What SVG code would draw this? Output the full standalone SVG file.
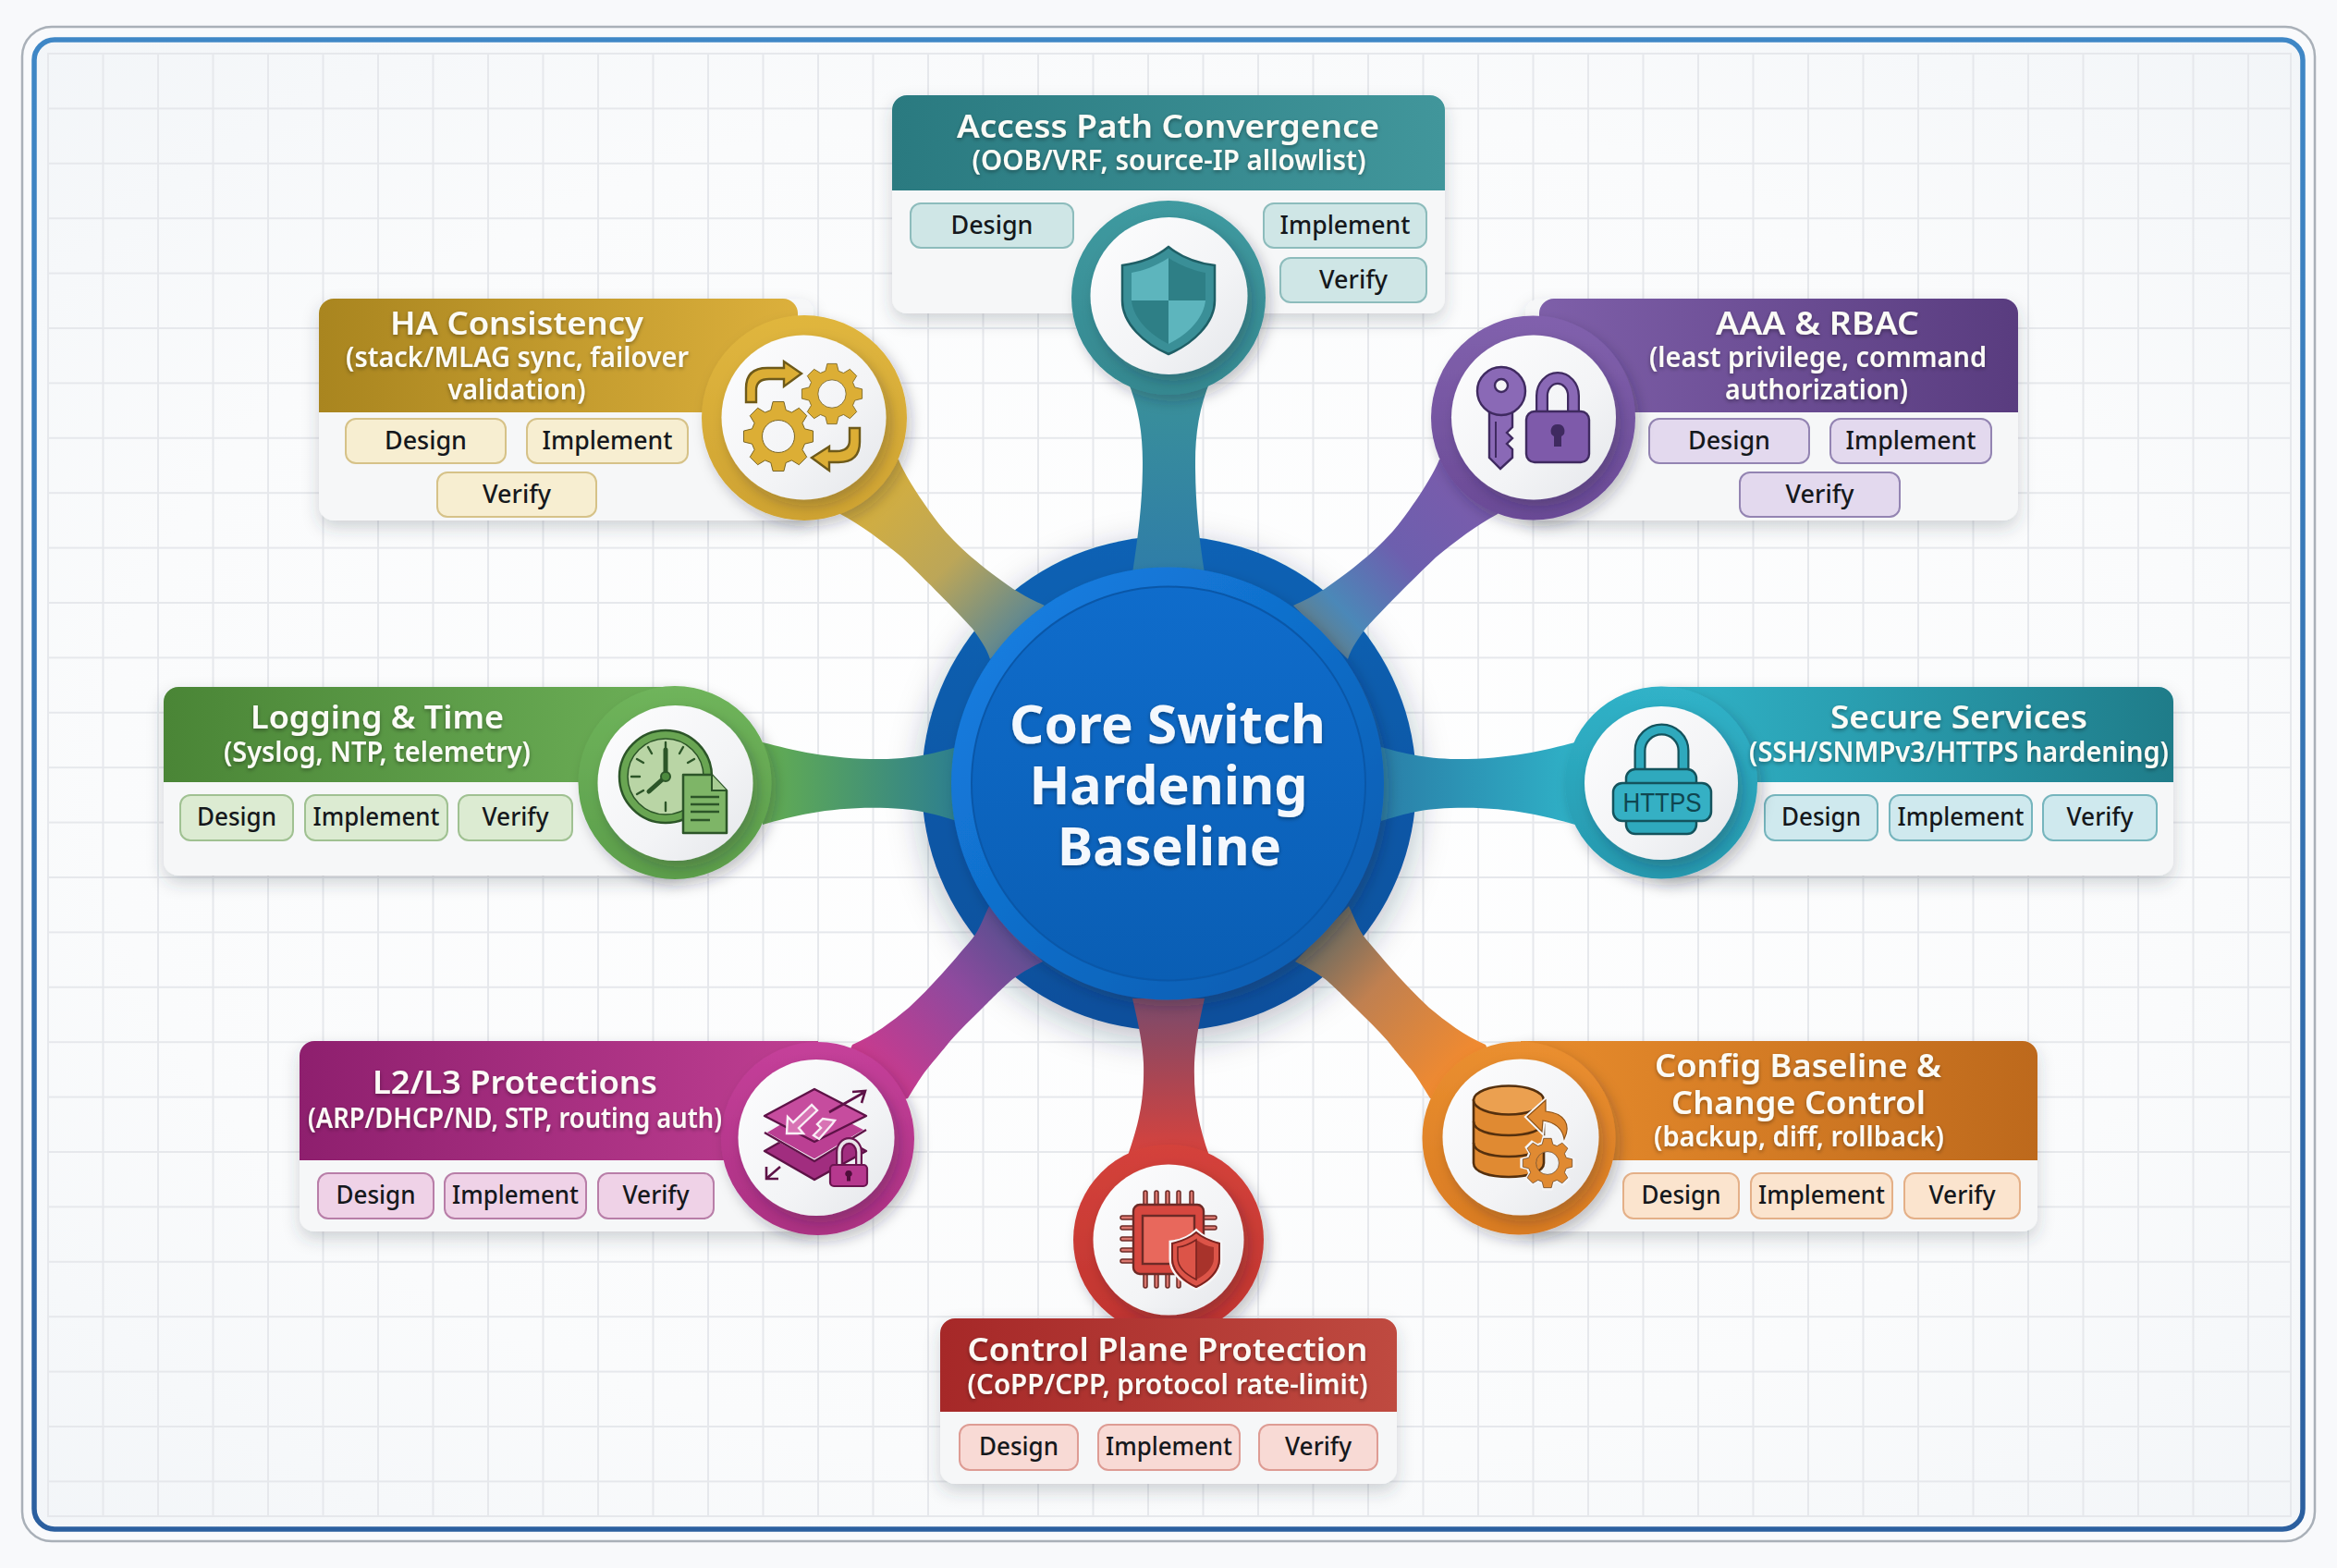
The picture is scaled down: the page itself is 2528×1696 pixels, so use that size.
<svg xmlns="http://www.w3.org/2000/svg" xmlns:xlink="http://www.w3.org/1999/xlink" width="2528" height="1696" viewBox="0 0 2528 1696">
<style>
text{font-family:"Noto Sans","Open Sans","Liberation Sans",sans-serif;text-anchor:middle}
.t{font-size:35px;font-weight:600;fill:#fbfbf6}
.s{font-size:30px;font-weight:600;fill:#fbfbf6}
.p{font-size:27.5px;font-weight:500;fill:#15181c}
.c{font-size:57px;font-weight:700;fill:#f4f8fd}
.body{fill:#f6f7f8}
.w{fill:url(#white)}
.pill{stroke-width:2}
.teal .pill{fill:#cfe6e6;stroke:#8dbcbc}
.gold .pill{fill:#f7eed1;stroke:#d6c288}
.purple .pill{fill:#e3d9ee;stroke:#9384b2}
.green .pill{fill:#dcebd2;stroke:#a0c192}
.cyan .pill{fill:#cfe9ee;stroke:#76b5bd}
.mag .pill{fill:#efd2e7;stroke:#b87ea8}
.orange .pill{fill:#fbe4ce;stroke:#e4b088}
.red .pill{fill:#f8dad5;stroke:#de9c94}
.ns{vector-effect:non-scaling-stroke}
</style>
<defs>
<radialGradient id="bg" cx="50%" cy="50%" r="72%"><stop offset="0" stop-color="#ffffff"/><stop offset=".65" stop-color="#fafbfc"/><stop offset="1" stop-color="#f2f5f8"/></radialGradient>
<linearGradient id="frame" x1="0" y1="0" x2="0" y2="1"><stop offset="0" stop-color="#3f87c6"/><stop offset="1" stop-color="#2b5f9f"/></linearGradient>
<pattern id="grid" patternUnits="userSpaceOnUse" x="51" y="57" width="59.5" height="59.4"><path d="M0,1H59.5M1,0V59.4" fill="none" stroke="#e6e8ec" stroke-width="2"/></pattern>
<linearGradient id="white" x1="0" y1="0" x2="1" y2="1"><stop offset="0" stop-color="#fdfdfe"/><stop offset=".6" stop-color="#f3f4f6"/><stop offset="1" stop-color="#e4e6ea"/></linearGradient>
<linearGradient id="coreO" x1="0" y1="0" x2="0" y2="1"><stop offset="0" stop-color="#0f62b4"/><stop offset="1" stop-color="#0a4f9b"/></linearGradient>
<linearGradient id="coreM" x1="0" y1="0" x2="1" y2="1"><stop offset="0" stop-color="#1581e6"/><stop offset="1" stop-color="#0b59ab"/></linearGradient>
<linearGradient id="coreI" x1="0" y1="0" x2="0" y2="1"><stop offset="0" stop-color="#0f6ccb"/><stop offset="1" stop-color="#0a5eb4"/></linearGradient>
<linearGradient id="hTeal"><stop offset="0" stop-color="#2a7a80"/><stop offset="1" stop-color="#41969b"/></linearGradient>
<linearGradient id="hGold"><stop offset="0" stop-color="#a9851f"/><stop offset="1" stop-color="#dcb03c"/></linearGradient>
<linearGradient id="hPurple"><stop offset="0" stop-color="#7e5fa9"/><stop offset="1" stop-color="#593c7f"/></linearGradient>
<linearGradient id="hGreen"><stop offset="0" stop-color="#4a8536"/><stop offset="1" stop-color="#6db058"/></linearGradient>
<linearGradient id="hCyan"><stop offset="0" stop-color="#30b3c8"/><stop offset="1" stop-color="#1f7c89"/></linearGradient>
<linearGradient id="hMag"><stop offset="0" stop-color="#8e1f6e"/><stop offset="1" stop-color="#bf3f92"/></linearGradient>
<linearGradient id="hOrange"><stop offset="0" stop-color="#e88c2c"/><stop offset="1" stop-color="#bd691c"/></linearGradient>
<linearGradient id="hRed"><stop offset="0" stop-color="#a62828"/><stop offset="1" stop-color="#bf4a40"/></linearGradient>
<linearGradient id="rTeal" x1="0" y1="0" x2="0" y2="1"><stop offset="0" stop-color="#3f9aa0"/><stop offset="1" stop-color="#358890"/></linearGradient>
<linearGradient id="rGold" x1="0" y1="0" x2="0" y2="1"><stop offset="0" stop-color="#e0b63e"/><stop offset="1" stop-color="#cfa332"/></linearGradient>
<linearGradient id="rPurple" x1="0" y1="0" x2="0" y2="1"><stop offset="0" stop-color="#8161ad"/><stop offset="1" stop-color="#6a4a96"/></linearGradient>
<linearGradient id="rGreen" x1="0" y1="0" x2="0" y2="1"><stop offset="0" stop-color="#6fb45b"/><stop offset="1" stop-color="#5c9e4b"/></linearGradient>
<linearGradient id="rCyan" x1="0" y1="0" x2="0" y2="1"><stop offset="0" stop-color="#30b2c8"/><stop offset="1" stop-color="#2698ae"/></linearGradient>
<linearGradient id="rMag" x1="0" y1="0" x2="0" y2="1"><stop offset="0" stop-color="#c5409a"/><stop offset="1" stop-color="#ab3082"/></linearGradient>
<linearGradient id="rOrange" x1="0" y1="0" x2="0" y2="1"><stop offset="0" stop-color="#ea8f30"/><stop offset="1" stop-color="#d97b22"/></linearGradient>
<linearGradient id="rRed" x1="0" y1="0" x2="0" y2="1"><stop offset="0" stop-color="#d4423b"/><stop offset="1" stop-color="#c0342f"/></linearGradient>
<linearGradient id="cTop" gradientUnits="userSpaceOnUse" x1="1264" y1="410" x2="1264" y2="620"><stop offset="0" stop-color="#3a9199"/><stop offset="1" stop-color="#2f7da8"/></linearGradient>
<linearGradient id="cHA" gradientUnits="userSpaceOnUse" x1="930" y1="520" x2="1100" y2="690"><stop offset="0" stop-color="#d8b03a"/><stop offset=".55" stop-color="#bca658"/><stop offset="1" stop-color="#5a8694"/></linearGradient>
<linearGradient id="cAAA" gradientUnits="userSpaceOnUse" x1="1610" y1="520" x2="1430" y2="690"><stop offset="0" stop-color="#7c5bab"/><stop offset=".5" stop-color="#6d5fae"/><stop offset=".85" stop-color="#4b88b8"/><stop offset="1" stop-color="#5f8090"/></linearGradient>
<linearGradient id="cLog" gradientUnits="userSpaceOnUse" x1="830" y1="850" x2="1035" y2="850"><stop offset="0" stop-color="#62ac52"/><stop offset="1" stop-color="#2d7f8f"/></linearGradient>
<linearGradient id="cSec" gradientUnits="userSpaceOnUse" x1="1700" y1="850" x2="1494" y2="850"><stop offset="0" stop-color="#2fb0c6"/><stop offset="1" stop-color="#2a7fa8"/></linearGradient>
<linearGradient id="cL2" gradientUnits="userSpaceOnUse" x1="950" y1="1160" x2="1100" y2="1010"><stop offset="0" stop-color="#c93a8e"/><stop offset=".6" stop-color="#8e4a9e"/><stop offset="1" stop-color="#5a4f90"/></linearGradient>
<linearGradient id="cCfg" gradientUnits="userSpaceOnUse" x1="1580" y1="1150" x2="1430" y2="1010"><stop offset="0" stop-color="#f08a30"/><stop offset=".6" stop-color="#c08050"/><stop offset="1" stop-color="#6a6a60"/></linearGradient>
<linearGradient id="cRed" gradientUnits="userSpaceOnUse" x1="1264" y1="1250" x2="1264" y2="1085"><stop offset="0" stop-color="#d8423c"/><stop offset="1" stop-color="#7d4a6a"/></linearGradient>
<filter id="card" x="-10%" y="-15%" width="120%" height="135%"><feDropShadow dx="0" dy="8" stdDeviation="9" flood-color="#39424e" flood-opacity=".22"/></filter>
<filter id="disc" x="-20%" y="-20%" width="140%" height="140%"><feDropShadow dx="5" dy="7" stdDeviation="7" flood-color="#20262e" flood-opacity=".25"/></filter>
<filter id="big" x="-15%" y="-15%" width="130%" height="130%"><feDropShadow dx="0" dy="10" stdDeviation="18" flood-color="#1c2c44" flood-opacity=".3"/></filter>
<filter id="txt" x="-5%" y="-20%" width="110%" height="140%"><feDropShadow dx="0" dy="2" stdDeviation="2" flood-color="#000" flood-opacity=".35"/></filter>
<path id="gear" fill-rule="evenodd" d="M98.8,-15.6L98.8,15.6L75,21.5L68.2,37.8L80.9,58.8L58.8,80.9L37.8,68.2L21.5,75L15.6,98.8L-15.6,98.8L-21.5,75L-37.8,68.2L-58.8,80.9L-80.9,58.8L-68.2,37.8L-75,21.5L-98.8,15.6L-98.8,-15.6L-75,-21.5L-68.2,-37.8L-80.9,-58.8L-58.8,-80.9L-37.8,-68.2L-21.5,-75L-15.6,-98.8L15.6,-98.8L21.5,-75L37.8,-68.2L58.8,-80.9L80.9,-58.8L68.2,-37.8L75,-21.5ZM46,0A46,46 0 1,0 -46,0A46,46 0 1,0 46,0Z"/>
</defs>

<g id="background">
<rect width="2528" height="1696" fill="#f8f9fb"/>
<rect x="24" y="29" width="2480" height="1638" rx="32" fill="#f9fafc" stroke="#a9b0b8" stroke-width="2.5"/>
<rect x="37" y="43" width="2454" height="1611" rx="22" fill="url(#bg)" stroke="url(#frame)" stroke-width="5.5"/>
<rect x="52" y="58" width="2426" height="1582" fill="url(#grid)" stroke="#e6e8ec" stroke-width="2"/>
</g>

<g id="core-ring"><circle cx="1264.5" cy="847.5" r="267.5" fill="url(#coreO)" filter="url(#big)"/></g>

<g id="connectors">
<path fill="url(#cTop)" d="M1219,410C1232,440 1236,470 1236,500C1236,540 1232,575 1225,620L1303,620C1296,575 1293,540 1293,500C1293,470 1297,440 1310,410Z"/>
<path fill="url(#cHA)" d="M972,497C979,515 999,545 1016,567C1034,590 1064,615 1096,637C1109,645 1119,650 1130,655L1071,713C1067,700 1059,690 1052,680C1034,660 999,625 976,603C954,585 932,568 909,556L880,500Z"/>
<path fill="url(#cAAA)" d="M1557,497C1550,515 1530,545 1513,567C1495,590 1465,615 1433,637C1420,645 1410,650 1399,655L1458,713C1462,700 1470,690 1477,680C1495,660 1530,625 1553,603C1575,585 1597,568 1620,556L1650,500Z"/>
<path fill="url(#cLog)" d="M825,803C860,812 900,822 960,821C990,820 1010,815 1035,808L1035,888C1010,880 990,875 960,874C900,872 860,882 825,892Z"/>
<path fill="url(#cSec)" d="M1704,803C1669,812 1629,822 1569,821C1539,820 1519,815 1494,808L1494,888C1519,880 1539,875 1569,874C1629,872 1669,882 1704,892Z"/>
<path fill="url(#cL2)" d="M1070,980C1065,990 1060,1005 1052,1015C1035,1035 1010,1065 983,1090C965,1105 945,1120 922,1130L880,1220L982,1188C990,1175 993,1170 1000,1160C1012,1145 1025,1130 1027,1127C1040,1112 1050,1103 1063,1090C1075,1078 1090,1063 1097,1058C1108,1050 1118,1045 1128,1040Z"/>
<path fill="url(#cCfg)" d="M1459,980C1464,990 1469,1005 1477,1015C1494,1035 1519,1065 1546,1090C1564,1105 1584,1120 1607,1130L1649,1220L1547,1188C1539,1175 1536,1170 1529,1160C1517,1145 1504,1130 1502,1127C1489,1112 1479,1103 1466,1090C1454,1078 1439,1063 1432,1058C1421,1050 1411,1045 1401,1040Z"/>
<path fill="url(#cRed)" d="M1225,1080C1232,1110 1236,1130 1237,1150C1238,1190 1232,1215 1220,1250L1308,1250C1296,1215 1291,1190 1292,1150C1293,1130 1296,1110 1303,1080Z"/>
</g>

<g id="node-core">
<circle cx="1263" cy="847.5" r="234" fill="url(#coreM)" filter="url(#disc)"/>
<circle cx="1264" cy="847.5" r="213" fill="url(#coreI)" stroke="#0a57a8" stroke-width="2"/>
<g filter="url(#txt)">
<text class="c" x="1263" y="804" textLength="342" lengthAdjust="spacingAndGlyphs">Core Switch</text>
<text class="c" x="1264" y="870" textLength="301" lengthAdjust="spacingAndGlyphs">Hardening</text>
<text class="c" x="1265" y="936" textLength="242" lengthAdjust="spacingAndGlyphs">Baseline</text>
</g>
</g>

<g id="node-access" class="teal">
<rect class="body" x="965" y="103" width="598" height="236" rx="16" filter="url(#card)"/>
<path fill="url(#hTeal)" d="M965,206V119A16,16 0 0 1 981,103H1547A16,16 0 0 1 1563,119V206Z"/>
<g filter="url(#txt)"><text class="t" x="1263.5" y="149" textLength="457" lengthAdjust="spacingAndGlyphs">Access Path Convergence</text>
<text class="s" x="1264.5" y="184" textLength="426" lengthAdjust="spacingAndGlyphs">(OOB/VRF, source-IP allowlist)</text></g>
<rect class="pill" x="985" y="220" width="176" height="48" rx="11"/><text class="p" x="1073" y="253" textLength="89" lengthAdjust="spacingAndGlyphs">Design</text>
<rect class="pill" x="1367" y="220" width="176" height="48" rx="11"/><text class="p" x="1455" y="253" textLength="141" lengthAdjust="spacingAndGlyphs">Implement</text>
<rect class="pill" x="1385" y="279" width="158" height="48" rx="11"/><text class="p" x="1464" y="312" textLength="74" lengthAdjust="spacingAndGlyphs">Verify</text>
<circle cx="1264" cy="322" r="105" fill="url(#rTeal)" filter="url(#disc)"/>
<circle class="w" cx="1264.5" cy="320" r="85" filter="url(#disc)"/>
<path fill="#3a8f97" stroke="#1f5f66" stroke-width="2.5" d="M1264,267C1280,280 1298,285 1314,287L1314,325C1314,350 1290,372 1264,383C1238,372 1214,350 1214,325L1214,287C1230,285 1248,280 1264,267Z"/>
<path fill="#5db5bd" d="M1264,279C1250,288 1236,293 1224,295L1224,325L1264,325Z"/>
<path fill="#2e7f86" d="M1264,279C1278,288 1292,293 1304,295L1304,325L1264,325Z"/>
<path fill="#2e7f86" d="M1224,325C1226,345 1244,362 1264,372L1264,325Z"/>
<path fill="#5db5bd" d="M1304,325C1302,345 1284,362 1264,372L1264,325Z"/>
</g>

<g id="node-ha" class="gold">
<rect class="body" x="345" y="323" width="535" height="240" rx="16" filter="url(#card)"/>
<path fill="url(#hGold)" d="M345,446V339A16,16 0 0 1 361,323H847A16,16 0 0 1 863,339V446Z"/>
<g filter="url(#txt)"><text class="t" x="559" y="362" textLength="274" lengthAdjust="spacingAndGlyphs">HA Consistency</text>
<text class="s" x="559.5" y="397" textLength="371" lengthAdjust="spacingAndGlyphs">(stack/MLAG sync, failover</text>
<text class="s" x="559" y="432" textLength="149" lengthAdjust="spacingAndGlyphs">validation)</text></g>
<rect class="pill" x="374" y="453" width="173" height="48" rx="11"/><text class="p" x="460.5" y="486" textLength="89" lengthAdjust="spacingAndGlyphs">Design</text>
<rect class="pill" x="570" y="453" width="174" height="48" rx="11"/><text class="p" x="657" y="486" textLength="141" lengthAdjust="spacingAndGlyphs">Implement</text>
<rect class="pill" x="473" y="511" width="172" height="48" rx="11"/><text class="p" x="559" y="544" textLength="74" lengthAdjust="spacingAndGlyphs">Verify</text>
<circle cx="870" cy="452" r="111" fill="url(#rGold)" filter="url(#disc)"/>
<circle class="w" cx="869.5" cy="451.5" r="89" filter="url(#disc)"/>
<g fill="#dcae35" stroke="#6e5a1a" stroke-width="2.4">
<use xlink:href="#gear" href="#gear" class="ns" transform="translate(842,472) scale(.38)"/>
<use xlink:href="#gear" href="#gear" class="ns" transform="translate(900,426) scale(.33)"/>
<path d="M807,435L807,420C807,405 815,398 830,398L848,398L848,391L867,404L848,418L848,410L832,410C822,410 818,414 818,422L818,435Z"/>
<path d="M930,463L930,478C930,493 922,500 907,500L897,500L897,509L878,495L897,483L897,488L905,488C915,488 919,484 919,476L919,463Z"/>
</g>
</g>

<g id="node-aaa" class="purple">
<rect class="body" x="1650" y="323" width="533" height="240" rx="16" filter="url(#card)"/>
<path fill="url(#hPurple)" d="M1665,446V339A16,16 0 0 1 1681,323H2167A16,16 0 0 1 2183,339V446Z"/>
<g filter="url(#txt)"><text class="t" x="1966" y="362" textLength="220" lengthAdjust="spacingAndGlyphs">AAA &amp; RBAC</text>
<text class="s" x="1966.5" y="397" textLength="365" lengthAdjust="spacingAndGlyphs">(least privilege, command</text>
<text class="s" x="1965" y="432" textLength="198" lengthAdjust="spacingAndGlyphs">authorization)</text></g>
<rect class="pill" x="1784" y="453" width="173" height="48" rx="11"/><text class="p" x="1870.5" y="486" textLength="89" lengthAdjust="spacingAndGlyphs">Design</text>
<rect class="pill" x="1980" y="453" width="174" height="48" rx="11"/><text class="p" x="2067" y="486" textLength="141" lengthAdjust="spacingAndGlyphs">Implement</text>
<rect class="pill" x="1882" y="511" width="173" height="48" rx="11"/><text class="p" x="1968.5" y="544" textLength="74" lengthAdjust="spacingAndGlyphs">Verify</text>
<circle cx="1658.5" cy="452" r="110.5" fill="url(#rPurple)" filter="url(#disc)"/>
<circle class="w" cx="1659" cy="451.5" r="89" filter="url(#disc)"/>
<g fill="#8a69b6" stroke="#3f2a60" stroke-width="2.4">
<path d="M1611,440L1611,495L1623,507L1636,495L1636,486L1630,480L1636,474L1630,468L1636,462L1636,440Z"/>
<circle cx="1624" cy="423" r="26"/>
<circle cx="1624" cy="417" r="7" fill="#f5f5f7"/>
<path d="M1618,456V495" fill="none" stroke-width="2"/>
<path d="M1668,447V428A17,19 0 0 1 1702,428V447" fill="none" stroke-width="14"/>
<path d="M1668,447V428A17,19 0 0 1 1702,428V447" fill="none" stroke="#8a69b6" stroke-width="9.5"/>
<rect x="1651" y="445" width="68" height="55" rx="9" fill="#7e5aaa"/>
<path d="M1685,459a7,7 0 0 1 4,13v11h-8v-11a7,7 0 0 1 4,-13Z" fill="#3f2a60" stroke="none"/>
</g>
</g>

<g id="node-logging" class="green">
<rect class="body" x="177" y="743" width="563" height="204" rx="16" filter="url(#card)"/>
<path fill="url(#hGreen)" d="M177,846V759A16,16 0 0 1 193,743H740V846Z"/>
<g filter="url(#txt)"><text class="t" x="408" y="788" textLength="274" lengthAdjust="spacingAndGlyphs">Logging &amp; Time</text>
<text class="s" x="408" y="824" textLength="332" lengthAdjust="spacingAndGlyphs">(Syslog, NTP, telemetry)</text></g>
<rect class="pill" x="195" y="860" width="122" height="49" rx="11"/><text class="p" x="256" y="893" textLength="86" lengthAdjust="spacingAndGlyphs">Design</text>
<rect class="pill" x="330" y="860" width="154" height="49" rx="11"/><text class="p" x="407" y="893" textLength="137" lengthAdjust="spacingAndGlyphs">Implement</text>
<rect class="pill" x="496" y="860" width="123" height="49" rx="11"/><text class="p" x="557.5" y="893" textLength="72" lengthAdjust="spacingAndGlyphs">Verify</text>
<circle cx="730" cy="846.5" r="104.5" fill="url(#rGreen)" filter="url(#disc)"/>
<circle class="w" cx="730.5" cy="847" r="84" filter="url(#disc)"/>
<circle cx="720" cy="840" r="50" fill="#69a552" stroke="#2c5528" stroke-width="2.5"/>
<circle cx="720" cy="840" r="41" fill="#b9d5a5" stroke="#2c5528" stroke-width="1.5"/>
<path d="M720,803v9M720,868v9M683,840h9M748,840h9M701,808l4,7M739,808l-4,7M689,821l7,4M751,821l-7,4M689,859l7,-4" stroke="#2c5528" stroke-width="2.4" fill="none" stroke-linecap="round"/>
<path d="M720,840V811M720,840L702,856" stroke="#2c5528" stroke-width="5" fill="none" stroke-linecap="round"/>
<circle cx="720" cy="840" r="5" fill="#4d8a3e" stroke="#2c5528" stroke-width="2"/>
<path d="M739,838H770L786,855V901H739Z" fill="#7eb567" stroke="#2c5528" stroke-width="2.5" stroke-linejoin="round"/>
<path d="M770,838V855H786" fill="#a8cd93" stroke="#2c5528" stroke-width="2"/>
<path d="M747,862H778M747,870H778M747,878H778M747,887H768" stroke="#2c5528" stroke-width="2.4"/>
</g>

<g id="node-secure" class="cyan">
<rect class="body" x="1790" y="743" width="561" height="204" rx="16" filter="url(#card)"/>
<path fill="url(#hCyan)" d="M1797,846V743H2335A16,16 0 0 1 2351,759V846Z"/>
<rect class="pill" x="1909" y="860" width="122" height="49" rx="11"/><text class="p" x="1970" y="893" textLength="86" lengthAdjust="spacingAndGlyphs">Design</text>
<rect class="pill" x="2044" y="860" width="154" height="49" rx="11"/><text class="p" x="2121" y="893" textLength="137" lengthAdjust="spacingAndGlyphs">Implement</text>
<rect class="pill" x="2210" y="860" width="123" height="49" rx="11"/><text class="p" x="2271.5" y="893" textLength="72" lengthAdjust="spacingAndGlyphs">Verify</text>
<circle cx="1797" cy="846.5" r="104" fill="url(#rCyan)" filter="url(#disc)"/>
<circle class="w" cx="1797" cy="847" r="83" filter="url(#disc)"/>
<g filter="url(#txt)"><text class="t" x="2119" y="788" textLength="278" lengthAdjust="spacingAndGlyphs">Secure Services</text>
<text class="s" x="2119" y="824" textLength="454" lengthAdjust="spacingAndGlyphs">(SSH/SNMPv3/HTTPS hardening)</text></g>
<path d="M1774,834V812A23.5,23 0 0 1 1821,812V834" fill="none" stroke="#14535d" stroke-width="13"/>
<path d="M1774,834V812A23.5,23 0 0 1 1821,812V834" fill="none" stroke="#2fa9bd" stroke-width="8.5"/>
<rect x="1759" y="832" width="76" height="70" rx="10" fill="#2fa9bd" stroke="#14535d" stroke-width="2.5"/>
<rect x="1745" y="847" width="106" height="41" rx="10" fill="#35b0c4" stroke="#14535d" stroke-width="2.5"/>
<text x="1798" y="878" font-size="29" textLength="85" lengthAdjust="spacingAndGlyphs" fill="#0f4650" style="font-family:'Liberation Sans',sans-serif">HTTPS</text>
</g>

<g id="node-l2l3" class="mag">
<rect class="body" x="324" y="1126" width="561" height="206" rx="16" filter="url(#card)"/>
<path fill="url(#hMag)" d="M324,1255V1142A16,16 0 0 1 340,1126H885V1255Z"/>
<rect class="pill" x="344" y="1269" width="125" height="49" rx="11"/><text class="p" x="406.5" y="1302" textLength="86" lengthAdjust="spacingAndGlyphs">Design</text>
<rect class="pill" x="481" y="1269" width="153" height="49" rx="11"/><text class="p" x="557.5" y="1302" textLength="137" lengthAdjust="spacingAndGlyphs">Implement</text>
<rect class="pill" x="647" y="1269" width="125" height="49" rx="11"/><text class="p" x="709.5" y="1302" textLength="72" lengthAdjust="spacingAndGlyphs">Verify</text>
<circle cx="884.5" cy="1231.5" r="104.5" fill="url(#rMag)" filter="url(#disc)"/>
<circle class="w" cx="883" cy="1230.5" r="84.5" filter="url(#disc)"/>
<g filter="url(#txt)"><text class="t" x="557" y="1183" textLength="308" lengthAdjust="spacingAndGlyphs">L2/L3 Protections</text>
<text class="s" x="557" y="1220" textLength="448" lengthAdjust="spacingAndGlyphs">(ARP/DHCP/ND, STP, routing auth)</text></g>
<g stroke="#5e1247" stroke-width="2.4" stroke-linejoin="round">
<path d="M827,1245L881,1276L937,1245L881,1214Z" fill="#a12d7f"/>
<path d="M827,1225L881,1255L937,1222L881,1193Z" fill="#bb3f93" stroke="#f5f5f7" stroke-width="3"/>
<path d="M827,1225L881,1256L937,1222" fill="none"/>
<path d="M827,1207L881,1178L937,1207L881,1235Z" fill="#c64c9e"/>
</g>
<path d="M878,1195L858,1214L852,1208L851,1226L869,1226L864,1220L884,1201ZM890,1210L884,1216L888,1220L880,1228L886,1232L900,1216L903,1212Z" fill="#d873b4" stroke="#f9eef6" stroke-width="2.4"/>
<path d="M897,1203L934,1182M922,1181L936,1180L932,1193M844,1262L830,1274M829,1262L829,1275L842,1275" fill="none" stroke="#5e1247" stroke-width="2.6"/>
<path d="M908,1262V1246A10.5,12 0 0 1 929,1246V1262" fill="none" stroke="#6b1550" stroke-width="8"/>
<path d="M908,1262V1246A10.5,12 0 0 1 929,1246V1262" fill="none" stroke="#e9e5ea" stroke-width="3.5"/>
<rect x="898" y="1260" width="40" height="23" rx="4" fill="#b6388e" stroke="#6b1550" stroke-width="2.2"/>
<path d="M918,1266a3.5,3.5 0 0 1 2,6.5v5h-4v-5a3.5,3.5 0 0 1 2,-6.5Z" fill="#4e0e3a"/>
</g>

<g id="node-config" class="orange">
<rect class="body" x="1645" y="1126" width="559" height="206" rx="16" filter="url(#card)"/>
<path fill="url(#hOrange)" d="M1645,1255V1126H2188A16,16 0 0 1 2204,1142V1255Z"/>
<g filter="url(#txt)"><text class="t" x="1945" y="1165" textLength="310" lengthAdjust="spacingAndGlyphs">Config Baseline &amp;</text>
<text class="t" x="1945.5" y="1205" textLength="275" lengthAdjust="spacingAndGlyphs">Change Control</text>
<text class="s" x="1946" y="1240" textLength="314" lengthAdjust="spacingAndGlyphs">(backup, diff, rollback)</text></g>
<rect class="pill" x="1756" y="1269" width="125" height="49" rx="11"/><text class="p" x="1818.5" y="1302" textLength="86" lengthAdjust="spacingAndGlyphs">Design</text>
<rect class="pill" x="1894" y="1269" width="153" height="49" rx="11"/><text class="p" x="1970.5" y="1302" textLength="137" lengthAdjust="spacingAndGlyphs">Implement</text>
<rect class="pill" x="2060" y="1269" width="125" height="49" rx="11"/><text class="p" x="2122.5" y="1302" textLength="72" lengthAdjust="spacingAndGlyphs">Verify</text>
<circle cx="1643" cy="1231" r="104.5" fill="url(#rOrange)" filter="url(#disc)"/>
<circle class="w" cx="1645" cy="1230" r="84.5" filter="url(#disc)"/>
<path d="M1594,1190V1258C1594,1268 1612,1273 1632,1273C1652,1273 1670,1268 1670,1258V1190Z" fill="#e08a32" stroke="#55300e" stroke-width="2.6"/>
<ellipse cx="1632" cy="1190" rx="38" ry="15.5" fill="#eba050" stroke="#55300e" stroke-width="2.6"/>
<path d="M1594,1213C1594,1223 1612,1228 1632,1228C1652,1228 1670,1223 1670,1213M1594,1236C1594,1246 1612,1251 1632,1251C1652,1251 1670,1246 1670,1236" fill="none" stroke="#55300e" stroke-width="2.6"/>
<path d="M1672,1190L1652,1208L1668,1224L1669,1212C1682,1214 1690,1220 1692,1232C1700,1216 1692,1204 1672,1202Z" fill="#e08a32" stroke="#f6f6f7" stroke-width="5"/>
<path d="M1672,1190L1652,1208L1668,1224L1669,1212C1682,1214 1690,1220 1692,1232C1700,1216 1692,1204 1672,1202Z" fill="#e08a32" stroke="#8d5217" stroke-width="1.2"/>
<use xlink:href="#gear" href="#gear" class="ns" transform="translate(1674,1258) scale(.29)" fill="#f5f5f7" stroke="#f5f5f7" stroke-width="7"/>
<use xlink:href="#gear" href="#gear" class="ns" transform="translate(1674,1258) scale(.27)" fill="#e08a32" stroke="#55300e" stroke-width="2.4"/>
</g>

<g id="node-control" class="red">
<circle cx="1264" cy="1341" r="103" fill="url(#rRed)" filter="url(#disc)"/>
<circle class="w" cx="1264" cy="1341" r="81.5" filter="url(#disc)"/>
<rect class="body" x="1017" y="1426" width="494" height="179" rx="16" filter="url(#card)"/>
<path fill="url(#hRed)" d="M1017,1527V1442A16,16 0 0 1 1033,1426H1495A16,16 0 0 1 1511,1442V1527Z"/>
<g filter="url(#txt)"><text class="t" x="1263" y="1472" textLength="433" lengthAdjust="spacingAndGlyphs">Control Plane Protection</text>
<text class="s" x="1263" y="1508" textLength="433" lengthAdjust="spacingAndGlyphs">(CoPP/CPP, protocol rate-limit)</text></g>
<rect class="pill" x="1038" y="1541" width="128" height="49" rx="11"/><text class="p" x="1102" y="1574" textLength="86" lengthAdjust="spacingAndGlyphs">Design</text>
<rect class="pill" x="1188" y="1541" width="153" height="49" rx="11"/><text class="p" x="1264.5" y="1574" textLength="137" lengthAdjust="spacingAndGlyphs">Implement</text>
<rect class="pill" x="1362" y="1541" width="128" height="49" rx="11"/><text class="p" x="1426" y="1574" textLength="72" lengthAdjust="spacingAndGlyphs">Verify</text>
<g fill="none" stroke-linecap="round">
<path d="M1239,1290V1303M1251,1290V1303M1263,1290V1303M1275,1290V1303M1289,1290V1303M1239,1378V1391M1251,1378V1391M1263,1378V1391M1275,1378V1391M1214,1317H1226M1214,1328H1226M1214,1340H1226M1214,1352H1226M1214,1364H1226M1302,1317H1314M1302,1328H1314" stroke="#6d2a26" stroke-width="5.5"/>
<path d="M1239,1290V1303M1251,1290V1303M1263,1290V1303M1275,1290V1303M1289,1290V1303M1239,1378V1391M1251,1378V1391M1263,1378V1391M1275,1378V1391M1214,1317H1226M1214,1328H1226M1214,1340H1226M1214,1352H1226M1214,1364H1226M1302,1317H1314M1302,1328H1314" stroke="#d9776f" stroke-width="2.4"/>
</g>
<rect x="1226" y="1303" width="76" height="75" rx="7" fill="#d6473f" stroke="#6d2a26" stroke-width="2.4"/>
<rect x="1236" y="1315" width="56" height="52" fill="#e8685c" stroke="#6d2a26" stroke-width="2.4"/>
<path d="M1294,1332C1302,1340 1312,1343 1320,1344V1362C1320,1376 1308,1387 1294,1393C1280,1387 1267,1376 1267,1362V1344C1276,1343 1286,1340 1294,1332Z" fill="#dc5448" stroke="#f6f6f7" stroke-width="5" paint-order="stroke"/>
<path d="M1294,1333C1302,1340 1312,1343 1319,1345V1362C1319,1375 1307,1386 1294,1392C1281,1386 1268,1375 1268,1362V1345C1276,1343 1286,1340 1294,1333Z" fill="#dc5448" stroke="#7a2420" stroke-width="2"/>
<path d="M1294,1341V1384C1304,1379 1313,1371 1313,1361V1349C1306,1348 1300,1345 1294,1341Z" fill="#a8332b"/>
<path d="M1294,1341V1384C1284,1379 1274,1371 1274,1361V1349C1282,1348 1288,1345 1294,1341Z" fill="none" stroke="#7a2420" stroke-width="1.6"/>
</g>
</svg>
